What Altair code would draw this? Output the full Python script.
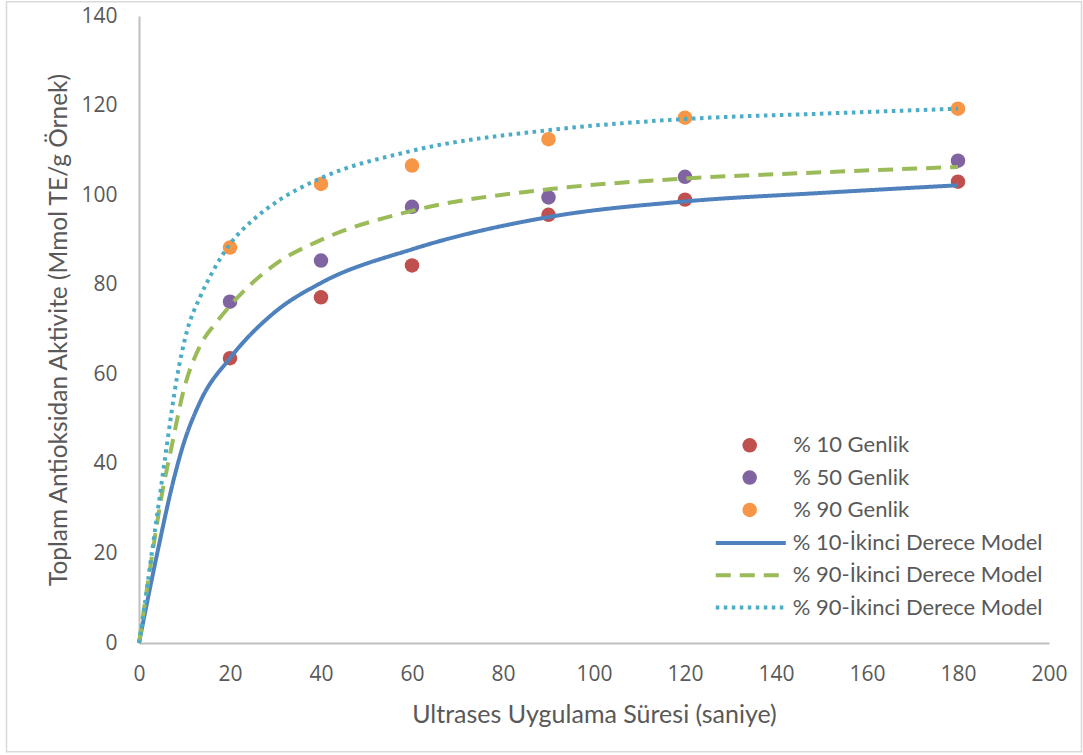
import altair as alt
import pandas as pd

# Measured antioxidant activity at each sonication time (s)
times = [20, 40, 60, 90, 120, 180]
amp10 = [63.6, 77.2, 84.3, 95.6, 99.0, 103.0]
amp50 = [76.2, 85.4, 97.4, 99.5, 104.1, 107.7]
amp90 = [88.3, 102.5, 106.6, 112.5, 117.3, 119.3]

# Second-order model curves, sampled along time
fit10_t = [0, 4, 7.5, 9.5, 13.5, 20, 30, 40, 60, 90, 120, 150, 180]
fit10_v = [0, 20, 36, 43.5, 54, 63.6, 74, 80.4, 87.9, 95.1, 98.6, 100.5, 102.2]
fit50_t = [0, 3, 5, 7.2, 9.7, 13.4, 17, 20, 30, 40, 60, 90, 120, 150, 180]
fit50_v = [0, 20.4, 33, 44, 56, 66.3, 71.6, 75.3, 84.6, 90, 96.5, 101.3, 103.7, 105.1, 106.3]
fit90_t = [0, 1.3, 2.4, 3.7, 4.6, 6.1, 8.3, 10.5, 13.4, 16.3, 20, 25, 31, 40, 60, 90, 120, 150, 180]
fit90_v = [0, 8.8, 17, 26.5, 33, 44, 59, 69.5, 77.2, 83.1, 89.1, 94.4, 99.0, 103.8, 109.9, 114.5, 117, 118.2, 119.3]

point_keys = ["g10", "g50", "g90"]
point_labels = ["% 10 Genlik", "% 50 Genlik", "% 90 Genlik"]
point_colors = ["#C0504D", "#8064A2", "#F79646"]

model_keys = ["m10", "m50", "m90"]
model_labels = ["% 10-İkinci Derece Model", "% 90-İkinci Derece Model", "% 90-İkinci Derece Model"]
model_colors = ["#4F81BD", "#9BBB59", "#4BACC6"]
model_dashes = [[1, 0], [15, 9], [3.5, 4.5]]
model_widths = [4, 4, 3.5]

x_ticks = list(range(0, 201, 20))
y_ticks = list(range(0, 141, 20))

FONT = "Lato"
NUM_FONT = "Open Sans"
TEXT = "#595959"


def label_expr(keys, labels):
    expr = "''"
    for k, lab in reversed(list(zip(keys, labels))):
        expr = f"datum.value === '{k}' ? '{lab}' : ({expr})"
    return expr


pts = pd.DataFrame({
    "t": times * 3,
    "v": amp10 + amp50 + amp90,
    "key": [k for k in point_keys for _ in times],
})

fits = pd.DataFrame({
    "t": fit10_t + fit50_t + fit90_t,
    "v": fit10_v + fit50_v + fit90_v,
    "key": ["m10"] * len(fit10_t) + ["m50"] * len(fit50_t) + ["m90"] * len(fit90_t),
})

x_enc = alt.X(
    "t:Q",
    scale=alt.Scale(domain=[0, 200], nice=False),
    axis=alt.Axis(
        values=x_ticks, ticks=False, grid=False, labelFlush=False,
        labelFont=NUM_FONT, labelFontSize=21, labelColor=TEXT, labelPadding=20,
        domainColor="#BFBFBF", domainWidth=2,
        title="Ultrases Uygulama Süresi (saniye)",
        titleFont=FONT, titleFontSize=25, titleFontWeight="normal", titleColor=TEXT,
        titleY=79, titleBaseline="alphabetic",
    ),
)
y_enc = alt.Y(
    "v:Q",
    scale=alt.Scale(domain=[0, 140], nice=False),
    axis=alt.Axis(
        values=y_ticks, ticks=False, grid=False, labelFlush=False,
        labelFont=NUM_FONT, labelFontSize=21, labelColor=TEXT, labelPadding=22,
        domainColor="#BFBFBF", domainWidth=2,
        title="Toplam Antioksidan Aktivite (Mmol TE/g Örnek)",
        titleFont=FONT, titleFontSize=24.5, titleFontWeight="normal", titleColor=TEXT,
        titleX=-68, titleY=313.5, titleBaseline="bottom", titleAngle=270,
    ),
)

points = alt.Chart(pts).mark_circle(size=210, opacity=1).encode(
    x=x_enc,
    y=y_enc,
    color=alt.Color(
        "key:N",
        scale=alt.Scale(domain=point_keys, range=point_colors),
        legend=alt.Legend(
            title=None, orient="none", legendX=599.7, legendY=417.3,
            padding=0, clipHeight=24, rowPadding=8.3,
            symbolType="circle", symbolSize=210, symbolStrokeWidth=0, symbolOpacity=1,
            labelFont=FONT, labelFontSize=22, labelColor=TEXT, labelOffset=32.5,
            labelExpr=label_expr(point_keys, point_labels), labelLimit=400,
        ),
    ),
)

line_legend = alt.Legend(
    title=None, orient="none", legendX=574.8, legendY=515,
    padding=0, clipHeight=24, rowPadding=8.3,
    symbolType="stroke", symbolSize=4900, symbolStrokeWidth=4,
    labelFont=FONT, labelFontSize=22, labelColor=TEXT, labelOffset=5,
    labelExpr=label_expr(model_keys, model_labels), labelLimit=400,
)

lines = alt.Chart(fits).mark_line(interpolate="monotone").encode(
    x="t:Q",
    y="v:Q",
    stroke=alt.Stroke("key:N", scale=alt.Scale(domain=model_keys, range=model_colors), legend=line_legend),
    strokeDash=alt.StrokeDash("key:N", scale=alt.Scale(domain=model_keys, range=model_dashes), legend=line_legend),
    strokeWidth=alt.StrokeWidth("key:N", scale=alt.Scale(domain=model_keys, range=model_widths), legend=None),
)

frame = alt.Chart(pd.DataFrame({"f": [0]})).mark_rect(
    fill="transparent", stroke="#D9D9D9", strokeWidth=1.5
).encode(
    x=alt.value(-132.5), x2=alt.value(942.5), y=alt.value(-14.2), y2=alt.value(735.8)
)

chart = alt.layer(points, lines, frame).properties(
    width=910,
    height=627,
    autosize=alt.AutoSizeParams(type="none"),
    padding={"left": 139, "top": 16, "right": 34, "bottom": 112},
    background="white",
).configure_view(stroke=None)

chart.save("out.html", embed_options={"renderer": "svg", "actions": False})
